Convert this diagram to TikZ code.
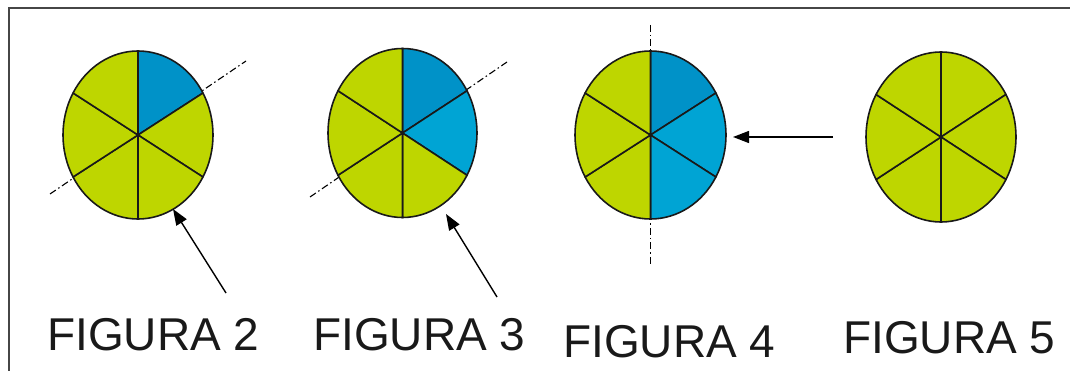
\documentclass[tikz,border=0pt]{standalone}
\usepackage{fontspec}
\setmainfont{Liberation Sans}
\usetikzlibrary{arrows.meta}
\definecolor{pielime}{RGB}{190,214,0}
\definecolor{piedark}{RGB}{0,146,200}
\definecolor{pielight}{RGB}{0,164,212}
\definecolor{framegray}{RGB}{70,70,70}
\begin{document}
\begin{tikzpicture}[x=1pt, y=1pt,
    sector/.style={draw=black!90, line width=1.6pt, line join=round},
    axisline/.style={line width=1.1pt, dash pattern=on 7pt off 3pt on 1.5pt off 3pt},
    pointer/.style={line width=1.4pt, -{Triangle[length=16pt, width=12pt]}},
    caption/.style={anchor=base west, inner sep=0pt, text=black!90, font=\fontsize{46}{50}\selectfont}
]
\useasboundingbox (0,0) rectangle (1070,-371);

% Frame
\draw[framegray, line width=2pt] (1070,-8.5) -- (9,-8.5) -- (9,-371);

% Centres
\coordinate (c2) at (138,-135);
\coordinate (c3) at (402.5,-133);
\coordinate (c4) at (650.5,-135);
\coordinate (c5) at (941,-137);

% Axes
\coordinate (ax2a) at (50,-194);
\coordinate (ax2b) at (246,-61);
\coordinate (ax3a) at (310,-197);
\coordinate (ax3b) at (507,-62);
\coordinate (ax4a) at (650.5,-25);
\coordinate (ax4b) at (650.5,-267);
\draw[axisline] (ax2a) -- (ax2b);
\draw[axisline] (ax3a) -- (ax3b);
\draw[axisline] (ax4a) -- (ax4b);

% Pies
\foreach \a/\col in {90/piedark, 30/pielime, -30/pielime, -90/pielime, -150/pielime, 150/pielime}
    \filldraw[sector, fill=\col] (c2) -- ++(\a:75 and 84) arc[start angle=\a, delta angle=-60, x radius=75, y radius=84] -- cycle;
\foreach \a/\col in {90/piedark, 30/pielight, -30/pielime, -90/pielime, -150/pielime, 150/pielime}
    \filldraw[sector, fill=\col] (c3) -- ++(\a:74.5 and 84.5) arc[start angle=\a, delta angle=-60, x radius=74.5, y radius=84.5] -- cycle;
\foreach \a/\col in {90/piedark, 30/pielight, -30/pielight, -90/pielime, -150/pielime, 150/pielime}
    \filldraw[sector, fill=\col] (c4) -- ++(\a:75.5 and 84) arc[start angle=\a, delta angle=-60, x radius=75.5, y radius=84] -- cycle;
\foreach \a/\col in {90/pielime, 30/pielime, -30/pielime, -90/pielime, -150/pielime, 150/pielime}
    \filldraw[sector, fill=\col] (c5) -- ++(\a:75 and 85) arc[start angle=\a, delta angle=-60, x radius=75, y radius=85] -- cycle;

% Pointers
\coordinate (p2) at (226,-293);
\coordinate (t2) at (173,-209);
\coordinate (p3) at (497,-297);
\coordinate (t3) at (446,-214);
\coordinate (p4) at (833,-137);
\coordinate (t4) at (733,-137);
\draw[pointer] (p2) -- (t2);
\draw[pointer] (p3) -- (t3);
\draw[pointer] (p4) -- (t4);

% Captions
\node[caption] (f2) at (47,-350) {FIGURA 2};
\node[caption] (f3) at (313,-350) {FIGURA 3};
\node[caption] (f4) at (563,-357) {FIGURA 4};
\node[caption] (f5) at (843,-353) {FIGURA 5};
\end{tikzpicture}
\end{document}
